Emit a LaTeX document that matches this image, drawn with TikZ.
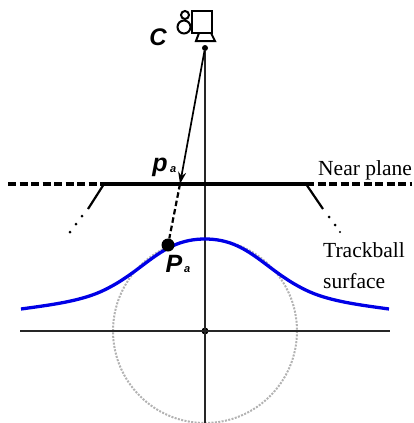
\documentclass[tikz,border=0pt]{standalone}
\usepackage{fontspec}
\setmainfont{Liberation Serif}
\setsansfont{Liberation Sans}
\usepackage{xcolor}
\usetikzlibrary{arrows.meta, positioning, calc}
\definecolor{ballblue}{RGB}{0,0,230}
\tikzset{
    axisline/.style={line width=1.2pt, color=black!85},
    planeline/.style={line width=3.6pt, color=black},
    planedash/.style={line width=3.2pt, color=black, dash pattern=on 8pt off 3.5pt},
    sideline/.style={line width=2.2pt, color=black},
    rayline/.style={line width=1.7pt, color=black, -{Stealth[length=12pt,width=8pt]}},
    raydash/.style={line width=2.2pt, color=black, dash pattern=on 5.5pt off 3pt},
    ballsurface/.style={line width=3.3pt, color=ballblue},
    hiddenball/.style={line width=2pt, color=black!30, dash pattern=on 2pt off 1.4pt},
    tinydot/.style={circle, fill=black, inner sep=0pt, minimum size=#1},
    ptlabel/.style={font=\sffamily\bfseries\itshape\fontsize{#1}{#1}\selectfont, inner sep=0pt},
    textlabel/.style={font=\fontsize{21.5}{25}\selectfont, inner sep=0pt, align=left},
    cambody/.style={line width=2pt, color=black}
}
\begin{document}
\begin{tikzpicture}[x=1pt, y=-1pt]
    \useasboundingbox (0,0) rectangle (414,423);

    % axes and hidden sphere
    \node (origin) [tinydot=7pt] at (205,331) {};
    \node (eye) [tinydot=6pt] at (205,48) {};
    \coordinate (axisbottom) at (205,423);
    \coordinate (axisleft) at (20,331);
    \coordinate (axisright) at (390,331);
    \draw [hiddenball] (origin) circle (92);
    \draw [axisline] (eye) -- (axisbottom);
    \draw [axisline] (axisleft) -- (axisright);

    % near plane
    \coordinate (planeleft) at (104,184);
    \coordinate (planeright) at (306,184);
    \coordinate (dashleft) at (8,184);
    \coordinate (dashright) at (412,184);
    \coordinate (sideleft) at (88,209);
    \coordinate (sideright) at (323,209);
    \draw [planedash] (dashleft) -- (planeleft);
    \draw [planedash] (planeright) -- (dashright);
    \draw [sideline] (planeleft) -- (sideleft);
    \draw [sideline] (planeright) -- (sideright);
    \draw [planeline] (planeleft) -- (planeright);
    \node (dotla) [tinydot=3pt] at (82,216) {};
    \node (dotlb) [tinydot=3pt] at (76,224) {};
    \node (dotlc) [tinydot=3pt] at (70,232) {};
    \node (dotra) [tinydot=3pt] at (329,217) {};
    \node (dotrb) [tinydot=3pt] at (335,225) {};
    \node (dotrc) [tinydot=2.4pt] at (340,232) {};

    % trackball surface
    \coordinate (surfleft) at (21,309);
    \coordinate (surfmidl) at (100,292);
    \coordinate (surftop) at (205,239);
    \coordinate (surfmidr) at (310,292);
    \coordinate (surfright) at (389,309);
    \draw [ballsurface] (surfleft) .. controls (50,305) and (78,301.5) .. (surfmidl)
        .. controls (145,272) and (160,239) .. (surftop)
        .. controls (250,239) and (265,272) .. (surfmidr)
        .. controls (332,301.5) and (360,305) .. (surfright);

    % ray
    \coordinate (hit) at (180,184);
    \node (Pa) [tinydot=13pt] at (168,245) {};
    \draw [rayline] (eye) -- (hit);
    \draw [raydash] (hit) -- (Pa);

    % camera
    \node (lensbig) [circle, draw, cambody, inner sep=0pt, minimum size=13pt] at (184,27) {};
    \node (lenssmall) [circle, draw, cambody, inner sep=0pt, minimum size=8pt] at (185,15) {};
    \node (cambox) [rectangle, draw, cambody, inner sep=0pt, minimum width=20pt, minimum height=22pt] at (202,22) {};
    \coordinate (standa) at (199,33);
    \coordinate (standb) at (196,41);
    \coordinate (standc) at (215,41);
    \coordinate (standd) at (211,33);
    \draw [cambody] (standa) -- (standb) -- (standc) -- (standd);

    % labels
    \node (clabel) [ptlabel=24] at (158,37) {C};
    \node (plabel) [ptlabel=25] at (160,167) {p};
    \node (psub) [ptlabel=11, right=2pt of plabel, yshift=-3pt] {a};
    \node (Plabel) [ptlabel=25] at (174,264) {P};
    \node (Psub) [ptlabel=11, right=1.5pt of Plabel, yshift=-6pt] {a};
    \node (nearlabel) [textlabel, anchor=west] at (318,170) {Near plane};
    \node (tracklabel) [textlabel, anchor=north west] at (323,242) {Trackball\\[6pt]surface};
\end{tikzpicture}
\end{document}
